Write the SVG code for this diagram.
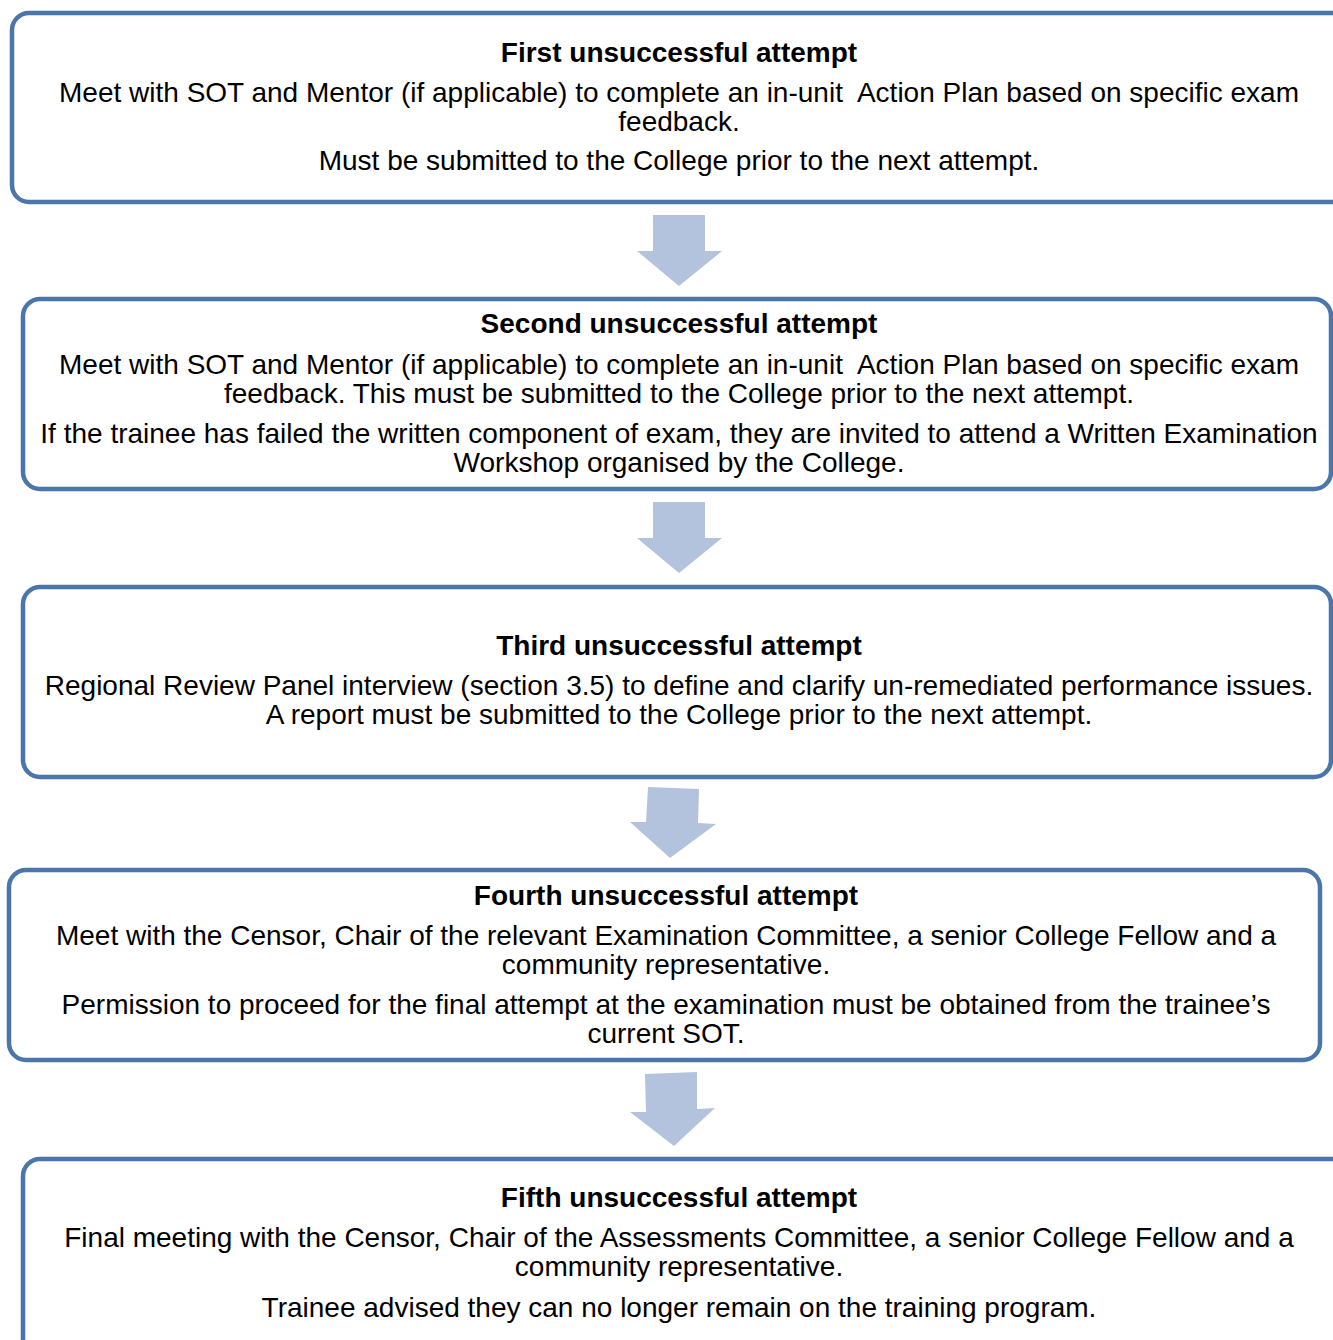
<svg xmlns="http://www.w3.org/2000/svg" width="1333" height="1340" viewBox="0 0 1333 1340">
<style>
.box{fill:#fff;stroke:#4a76ac;stroke-width:4.5}
.arr{fill:#b3c3de}
text{font-family:"Liberation Sans",Arial,sans-serif;font-size:28px;fill:#000;text-anchor:middle;white-space:pre}
.t{font-weight:bold}
</style>
<rect width="1333" height="1340" fill="#fff"/>
<g id="connectors">
<polygon class="arr" points="653,215 705,215 705,251 722,251 679,286 637,251 653,251"/>
<polygon class="arr" points="653,502 705,502 705,538 722,538 679,573 637,538 653,538"/>
<polygon class="arr" points="648,787 699,789 698,823 716,824 670,858 630,822 646,822"/>
<polygon class="arr" points="645,1074 697,1072 697,1109 715,1108 674,1146 630,1112 646,1112"/>
</g>
<g id="node1">
<rect class="box" x="12" y="13" width="1360" height="189" rx="17"/>
<text class="t" x="679" y="62">First unsuccessful attempt</text>
<text x="679" y="102" xml:space="preserve">Meet with SOT and Mentor (if applicable) to complete an in-unit  Action Plan based on specific exam</text>
<text x="679" y="131">feedback.</text>
<text x="679" y="170">Must be submitted to the College prior to the next attempt.</text>
</g>
<g id="node2">
<rect class="box" x="23" y="299" width="1308" height="190" rx="17"/>
<text class="t" x="679" y="333">Second unsuccessful attempt</text>
<text x="679" y="374" xml:space="preserve">Meet with SOT and Mentor (if applicable) to complete an in-unit  Action Plan based on specific exam</text>
<text x="679" y="403">feedback. This must be submitted to the College prior to the next attempt.</text>
<text x="679" y="443">If the trainee has failed the written component of exam, they are invited to attend a Written Examination</text>
<text x="679" y="472">Workshop organised by the College.</text>
</g>
<g id="node3">
<rect class="box" x="23" y="587" width="1308" height="190" rx="17"/>
<text class="t" x="679" y="655">Third unsuccessful attempt</text>
<text x="679" y="695">Regional Review Panel interview (section 3.5) to define and clarify un-remediated performance issues.</text>
<text x="679" y="724">A report must be submitted to the College prior to the next attempt.</text>
</g>
<g id="node4">
<rect class="box" x="9" y="870" width="1311" height="190" rx="17"/>
<text class="t" x="666" y="905">Fourth unsuccessful attempt</text>
<text x="666" y="945">Meet with the Censor, Chair of the relevant Examination Committee, a senior College Fellow and a</text>
<text x="666" y="974">community representative.</text>
<text x="666" y="1014">Permission to proceed for the final attempt at the examination must be obtained from the trainee’s</text>
<text x="666" y="1043">current SOT.</text>
</g>
<g id="node5">
<rect class="box" x="23" y="1159" width="1360" height="220" rx="17"/>
<text class="t" x="679" y="1207">Fifth unsuccessful attempt</text>
<text x="679" y="1247">Final meeting with the Censor, Chair of the Assessments Committee, a senior College Fellow and a</text>
<text x="679" y="1276">community representative.</text>
<text x="679" y="1317">Trainee advised they can no longer remain on the training program.</text>
</g>
</svg>
